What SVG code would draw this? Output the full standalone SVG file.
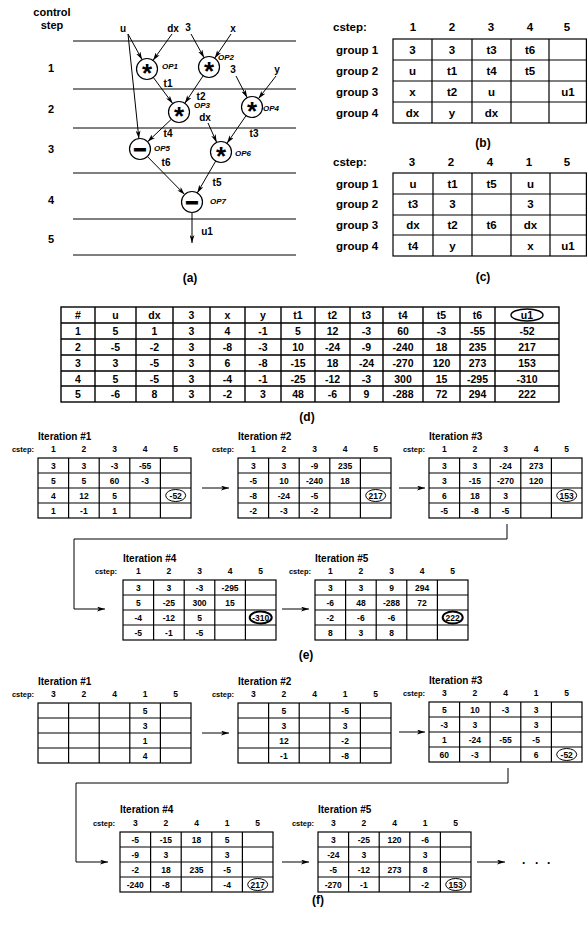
<svg xmlns="http://www.w3.org/2000/svg" xmlns:xlink="http://www.w3.org/1999/xlink" width="587" height="929" viewBox="0 0 587 929">
<style>
text{font-family:"Liberation Sans",Arial,sans-serif;font-weight:bold;fill:#000}
.ln{stroke:#000;stroke-width:1;fill:none}
.ed{stroke:#000;stroke-width:1;fill:none;marker-end:url(#ah)}
.nd{fill:#fff;stroke:#000;stroke-width:1.2}
.lb{font-size:10px;text-anchor:middle}
.op{font-size:8px;font-style:italic}
.mul{font-size:26px;text-anchor:middle}
.sub{font-size:22px;text-anchor:middle;stroke:#000;stroke-width:1}
.st{font-size:11px;text-anchor:middle}
.tb{fill:none;stroke:#000;stroke-width:1.2}
.gt{font-size:11.5px;text-anchor:middle}
.gl{font-size:11.5px}
.dt{font-size:10.5px;text-anchor:middle}
.c{font-size:8.5px;text-anchor:middle}
.h{font-size:8.5px;text-anchor:middle}
.cs{font-size:7.5px;text-anchor:end}
.ti{font-size:10px}
.cap{font-size:12px;text-anchor:middle}
.ov{fill:none;stroke:#000;stroke-width:1}
.ovb{fill:none;stroke:#000;stroke-width:2}
</style>
<defs>
<marker id="ah" viewBox="0 0 10 6" refX="10" refY="3" markerWidth="8" markerHeight="5" orient="auto" markerUnits="userSpaceOnUse"><path d="M0,0L10,3L0,6L2.5,3z" fill="#000"/></marker>
<g id="grid"><rect class="tb" x="0" y="0" width="153" height="60"/><path class="tb" d="M30.6,0V60M61.2,0V60M91.8,0V60M122.4,0V60M0,15H153M0,30H153M0,45H153"/></g>
</defs>
<rect width="587" height="929" fill="#fff"/>

<!-- (a) -->
<g id="a-steps">
<text class="st" x="52" y="16">control</text>
<text class="st" x="52" y="29">step</text>
<text class="st" x="51" y="72">1</text>
<text class="st" x="51" y="113">2</text>
<text class="st" x="51" y="153">3</text>
<text class="st" x="51" y="204">4</text>
<text class="st" x="51" y="243">5</text>
<path class="ln" d="M73,41H296M73,89H296M73,128H296M73,173H296M73,219H296M73,255H296"/>
</g>
<g id="a-edges">
<path class="ed" d="M128,34L142.1,59.7"/>
<path class="ed" d="M128,34L138.9,138.6"/>
<path class="ed" d="M172,34L153,60.4"/>
<path class="ed" d="M191,34L204.1,57.7"/>
<path class="ed" d="M231,34L214.7,58.2"/>
<path class="ed" d="M153.3,77.4L172.7,103.6"/>
<path class="ed" d="M203.2,75.7L184.8,103.3"/>
<path class="ed" d="M236,76L247.2,97.7"/>
<path class="ed" d="M276,76L258.4,98.7"/>
<path class="ed" d="M171.4,119.2L147.6,141.8"/>
<path class="ed" d="M208,123L216.7,142.4"/>
<path class="ed" d="M246,115.7L227,143.3"/>
<path class="ed" d="M147.4,156.5L184.6,194.5"/>
<path class="ed" d="M215.7,161.1L197.3,192.9"/>
<path class="ed" d="M192,212.5V243"/>
</g>
<g id="a-labels">
<text class="lb" x="123" y="32">u</text>
<text class="lb" x="173" y="32">dx</text>
<text class="lb" x="188" y="31">3</text>
<text class="lb" x="233" y="32">x</text>
<text class="lb" x="233" y="73">3</text>
<text class="lb" x="277" y="73">y</text>
<text class="lb" x="168" y="87">t1</text>
<text class="lb" x="201" y="100">t2</text>
<text class="lb" x="205" y="121">dx</text>
<text class="lb" x="168" y="137">t4</text>
<text class="lb" x="254" y="137">t3</text>
<text class="lb" x="166" y="166">t6</text>
<text class="lb" x="217" y="186">t5</text>
<text class="lb" x="207" y="235">u1</text>
</g>
<g id="op1"><circle class="nd" cx="147" cy="69" r="10.5"/><text class="mul" x="147" y="82">*</text><text class="op" x="162" y="69">OP1</text></g>
<g id="op2"><circle class="nd" cx="209" cy="67" r="10.5"/><text class="mul" x="209" y="80">*</text><text class="op" x="218" y="60">OP2</text></g>
<g id="op3"><circle class="nd" cx="179" cy="112" r="10.5"/><text class="mul" x="179" y="125">*</text><text class="op" x="194" y="108">OP3</text></g>
<g id="op4"><circle class="nd" cx="252" cy="107" r="10.5"/><text class="mul" x="252" y="120">*</text><text class="op" x="263" y="111">OP4</text></g>
<g id="op5"><circle class="nd" cx="140" cy="149" r="10.5"/><text class="sub" x="140" y="156.5">−</text><text class="op" x="154" y="151">OP5</text></g>
<g id="op6"><circle class="nd" cx="221" cy="152" r="10.5"/><text class="mul" x="221" y="165">*</text><text class="op" x="235" y="156">OP6</text></g>
<g id="op7"><circle class="nd" cx="192" cy="202" r="10.5"/><text class="sub" x="192" y="209.5">−</text><text class="op" x="210" y="204">OP7</text></g>
<text class="cap" x="190" y="282">(a)</text>

<!-- (b) -->
<g id="tab-b">
<text class="gl" x="333" y="31">cstep:</text>
<text class="gt" x="413" y="31">1</text><text class="gt" x="452" y="31">2</text><text class="gt" x="491" y="31">3</text><text class="gt" x="530" y="31">4</text><text class="gt" x="567" y="31">5</text>
<text class="gl" x="336" y="54">group 1</text><text class="gl" x="336" y="75">group 2</text><text class="gl" x="336" y="96">group 3</text><text class="gl" x="336" y="117">group 4</text>
<rect class="tb" x="393" y="39" width="193.4" height="84"/>
<path class="tb" d="M432,39V123M472,39V123M511,39V123M549,39V123M393,60H586.4M393,81H586.4M393,102H586.4"/>
<text class="gt" x="412.5" y="54">3</text><text class="gt" x="452" y="54">3</text><text class="gt" x="491.5" y="54">t3</text><text class="gt" x="530" y="54">t6</text>
<text class="gt" x="412.5" y="75">u</text><text class="gt" x="452" y="75">t1</text><text class="gt" x="491.5" y="75">t4</text><text class="gt" x="530" y="75">t5</text>
<text class="gt" x="412.5" y="96">x</text><text class="gt" x="452" y="96">t2</text><text class="gt" x="491.5" y="96">u</text><text class="gt" x="568" y="96">u1</text>
<text class="gt" x="412.5" y="117">dx</text><text class="gt" x="452" y="117">y</text><text class="gt" x="491.5" y="117">dx</text>
<text class="cap" x="483" y="147">(b)</text>
</g>

<!-- (c) -->
<g id="tab-c">
<text class="gl" x="333" y="166">cstep:</text>
<text class="gt" x="412" y="166">3</text><text class="gt" x="451" y="166">2</text><text class="gt" x="490" y="166">4</text><text class="gt" x="529" y="166">1</text><text class="gt" x="567" y="166">5</text>
<text class="gl" x="336" y="188">group 1</text><text class="gl" x="336" y="208">group 2</text><text class="gl" x="336" y="229">group 3</text><text class="gl" x="336" y="250">group 4</text>
<rect class="tb" x="393" y="173" width="193.4" height="83"/>
<path class="tb" d="M433,173V256M472,173V256M511,173V256M550,173V256M393,194H586.4M393,215H586.4M393,235H586.4"/>
<text class="gt" x="413" y="188">u</text><text class="gt" x="452.5" y="188">t1</text><text class="gt" x="491.5" y="188">t5</text><text class="gt" x="530.5" y="188">u</text>
<text class="gt" x="413" y="208">t3</text><text class="gt" x="452.5" y="208">3</text><text class="gt" x="530.5" y="208">3</text>
<text class="gt" x="413" y="229">dx</text><text class="gt" x="452.5" y="229">t2</text><text class="gt" x="491.5" y="229">t6</text><text class="gt" x="530.5" y="229">dx</text>
<text class="gt" x="413" y="250">t4</text><text class="gt" x="452.5" y="250">y</text><text class="gt" x="530.5" y="250">x</text><text class="gt" x="568" y="250">u1</text>
<text class="cap" x="483" y="281">(c)</text>
</g>

<!-- (d) -->
<g id="tab-d">
<rect x="61" y="307" width="498" height="95" fill="none" stroke="#000" stroke-width="1.4"/>
<path fill="none" stroke="#000" stroke-width="1.4" d="M95,307V402M136,307V402M173,307V402M210,307V402M245,307V402M281,307V402M315,307V402M350,307V402M383,307V402M423,307V402M460,307V402M495,307V402M61,323H559M61,339H559M61,355H559M61,371H559M61,386H559"/>
<text class="dt" x="78" y="319">#</text><text class="dt" x="115.5" y="319">u</text><text class="dt" x="154.5" y="319">dx</text><text class="dt" x="191.5" y="319">3</text><text class="dt" x="227.5" y="319">x</text><text class="dt" x="263" y="319">y</text><text class="dt" x="298" y="319">t1</text><text class="dt" x="332.5" y="319">t2</text><text class="dt" x="366.5" y="319">t3</text><text class="dt" x="403" y="319">t4</text><text class="dt" x="441.5" y="319">t5</text><text class="dt" x="477.5" y="319">t6</text><text class="dt" x="527" y="319">u1</text>
<ellipse fill="none" stroke="#000" stroke-width="1.4" cx="527" cy="315" rx="16" ry="6"/>
<text class="dt" x="78" y="335">1</text><text class="dt" x="115.5" y="335">5</text><text class="dt" x="154.5" y="335">1</text><text class="dt" x="191.5" y="335">3</text><text class="dt" x="227.5" y="335">4</text><text class="dt" x="263" y="335">-1</text><text class="dt" x="298" y="335">5</text><text class="dt" x="332.5" y="335">12</text><text class="dt" x="366.5" y="335">-3</text><text class="dt" x="403" y="335">60</text><text class="dt" x="441.5" y="335">-3</text><text class="dt" x="477.5" y="335">-55</text><text class="dt" x="527" y="335">-52</text>
<text class="dt" x="78" y="351">2</text><text class="dt" x="115.5" y="351">-5</text><text class="dt" x="154.5" y="351">-2</text><text class="dt" x="191.5" y="351">3</text><text class="dt" x="227.5" y="351">-8</text><text class="dt" x="263" y="351">-3</text><text class="dt" x="298" y="351">10</text><text class="dt" x="332.5" y="351">-24</text><text class="dt" x="366.5" y="351">-9</text><text class="dt" x="403" y="351">-240</text><text class="dt" x="441.5" y="351">18</text><text class="dt" x="477.5" y="351">235</text><text class="dt" x="527" y="351">217</text>
<text class="dt" x="78" y="367">3</text><text class="dt" x="115.5" y="367">3</text><text class="dt" x="154.5" y="367">-5</text><text class="dt" x="191.5" y="367">3</text><text class="dt" x="227.5" y="367">6</text><text class="dt" x="263" y="367">-8</text><text class="dt" x="298" y="367">-15</text><text class="dt" x="332.5" y="367">18</text><text class="dt" x="366.5" y="367">-24</text><text class="dt" x="403" y="367">-270</text><text class="dt" x="441.5" y="367">120</text><text class="dt" x="477.5" y="367">273</text><text class="dt" x="527" y="367">153</text>
<text class="dt" x="78" y="382.5">4</text><text class="dt" x="115.5" y="382.5">5</text><text class="dt" x="154.5" y="382.5">-5</text><text class="dt" x="191.5" y="382.5">3</text><text class="dt" x="227.5" y="382.5">-4</text><text class="dt" x="263" y="382.5">-1</text><text class="dt" x="298" y="382.5">-25</text><text class="dt" x="332.5" y="382.5">-12</text><text class="dt" x="366.5" y="382.5">-3</text><text class="dt" x="403" y="382.5">300</text><text class="dt" x="441.5" y="382.5">15</text><text class="dt" x="477.5" y="382.5">-295</text><text class="dt" x="527" y="382.5">-310</text>
<text class="dt" x="78" y="398">5</text><text class="dt" x="115.5" y="398">-6</text><text class="dt" x="154.5" y="398">8</text><text class="dt" x="191.5" y="398">3</text><text class="dt" x="227.5" y="398">-2</text><text class="dt" x="263" y="398">3</text><text class="dt" x="298" y="398">48</text><text class="dt" x="332.5" y="398">-6</text><text class="dt" x="366.5" y="398">9</text><text class="dt" x="403" y="398">-288</text><text class="dt" x="441.5" y="398">72</text><text class="dt" x="477.5" y="398">294</text><text class="dt" x="527" y="398">222</text>
<text class="cap" x="307" y="421">(d)</text>
</g>

<!-- connectors (e)/(f) -->
<g id="connectors">
<path class="ed" d="M202,488H229"/>
<path class="ed" d="M399,488H425"/>
<path class="ed" d="M507,524V539H74V609H105"/>
<path class="ed" d="M282,609H309"/>
<path class="ed" d="M202,733H229"/>
<path class="ed" d="M399,732H425"/>
<path class="ed" d="M508,768V783H76V862H108"/>
<path class="ed" d="M282,862H309"/>
<path class="ed" d="M477,862H505"/>
</g>

<!-- (e) -->
<g id="e1" transform="translate(38,458)">
<text class="ti" x="0" y="-18.5">Iteration #1</text>
<text class="cs" x="-4" y="-6">cstep:</text>
<text class="h" x="15.3" y="-6">1</text><text class="h" x="45.9" y="-6">2</text><text class="h" x="76.5" y="-6">3</text><text class="h" x="107.1" y="-6">4</text><text class="h" x="137.7" y="-6">5</text>
<use xlink:href="#grid"/>
<text class="c" x="15.3" y="10.5">3</text><text class="c" x="45.9" y="10.5">3</text><text class="c" x="76.5" y="10.5">-3</text><text class="c" x="107.1" y="10.5">-55</text>
<text class="c" x="15.3" y="25.5">5</text><text class="c" x="45.9" y="25.5">5</text><text class="c" x="76.5" y="25.5">60</text><text class="c" x="107.1" y="25.5">-3</text>
<text class="c" x="15.3" y="40.5">4</text><text class="c" x="45.9" y="40.5">12</text><text class="c" x="76.5" y="40.5">5</text><text class="c" x="137.7" y="40.5">-52</text>
<text class="c" x="15.3" y="55.5">1</text><text class="c" x="45.9" y="55.5">-1</text><text class="c" x="76.5" y="55.5">1</text>
<ellipse class="ov" cx="137.7" cy="37.5" rx="10" ry="6"/>
</g>
<g id="e2" transform="translate(238,458)">
<text class="ti" x="0" y="-18.5">Iteration #2</text>
<text class="cs" x="-4" y="-6">cstep:</text>
<text class="h" x="15.3" y="-6">1</text><text class="h" x="45.9" y="-6">2</text><text class="h" x="76.5" y="-6">3</text><text class="h" x="107.1" y="-6">4</text><text class="h" x="137.7" y="-6">5</text>
<use xlink:href="#grid"/>
<text class="c" x="15.3" y="10.5">3</text><text class="c" x="45.9" y="10.5">3</text><text class="c" x="76.5" y="10.5">-9</text><text class="c" x="107.1" y="10.5">235</text>
<text class="c" x="15.3" y="25.5">-5</text><text class="c" x="45.9" y="25.5">10</text><text class="c" x="76.5" y="25.5">-240</text><text class="c" x="107.1" y="25.5">18</text>
<text class="c" x="15.3" y="40.5">-8</text><text class="c" x="45.9" y="40.5">-24</text><text class="c" x="76.5" y="40.5">-5</text><text class="c" x="137.7" y="40.5">217</text>
<text class="c" x="15.3" y="55.5">-2</text><text class="c" x="45.9" y="55.5">-3</text><text class="c" x="76.5" y="55.5">-2</text>
<ellipse class="ov" cx="137.7" cy="37.5" rx="10" ry="6"/>
</g>
<g id="e3" transform="translate(429,458)">
<text class="ti" x="0" y="-18.5">Iteration #3</text>
<text class="cs" x="-4" y="-6">cstep:</text>
<text class="h" x="15.3" y="-6">1</text><text class="h" x="45.9" y="-6">2</text><text class="h" x="76.5" y="-6">3</text><text class="h" x="107.1" y="-6">4</text><text class="h" x="137.7" y="-6">5</text>
<use xlink:href="#grid"/>
<text class="c" x="15.3" y="10.5">3</text><text class="c" x="45.9" y="10.5">3</text><text class="c" x="76.5" y="10.5">-24</text><text class="c" x="107.1" y="10.5">273</text>
<text class="c" x="15.3" y="25.5">3</text><text class="c" x="45.9" y="25.5">-15</text><text class="c" x="76.5" y="25.5">-270</text><text class="c" x="107.1" y="25.5">120</text>
<text class="c" x="15.3" y="40.5">6</text><text class="c" x="45.9" y="40.5">18</text><text class="c" x="76.5" y="40.5">3</text><text class="c" x="137.7" y="40.5">153</text>
<text class="c" x="15.3" y="55.5">-5</text><text class="c" x="45.9" y="55.5">-8</text><text class="c" x="76.5" y="55.5">-5</text>
<ellipse class="ov" cx="137.7" cy="37.5" rx="10" ry="6"/>
</g>
<g id="e4" transform="translate(123,580)">
<text class="ti" x="0" y="-18.5">Iteration #4</text>
<text class="cs" x="-6" y="-6">cstep:</text>
<text class="h" x="15.3" y="-6">1</text><text class="h" x="45.9" y="-6">2</text><text class="h" x="76.5" y="-6">3</text><text class="h" x="107.1" y="-6">4</text><text class="h" x="137.7" y="-6">5</text>
<use xlink:href="#grid"/>
<text class="c" x="15.3" y="10.5">3</text><text class="c" x="45.9" y="10.5">3</text><text class="c" x="76.5" y="10.5">-3</text><text class="c" x="107.1" y="10.5">-295</text>
<text class="c" x="15.3" y="25.5">5</text><text class="c" x="45.9" y="25.5">-25</text><text class="c" x="76.5" y="25.5">300</text><text class="c" x="107.1" y="25.5">15</text>
<text class="c" x="15.3" y="40.5">-4</text><text class="c" x="45.9" y="40.5">-12</text><text class="c" x="76.5" y="40.5">5</text><text class="c" x="137.7" y="40.5">-310</text>
<text class="c" x="15.3" y="55.5">-5</text><text class="c" x="45.9" y="55.5">-1</text><text class="c" x="76.5" y="55.5">-5</text>
<ellipse class="ovb" cx="137.7" cy="37.5" rx="11" ry="6"/>
</g>
<g id="e5" transform="translate(315,580)">
<text class="ti" x="0" y="-18.5">Iteration #5</text>
<text class="cs" x="-4" y="-6">cstep:</text>
<text class="h" x="15.3" y="-6">1</text><text class="h" x="45.9" y="-6">2</text><text class="h" x="76.5" y="-6">3</text><text class="h" x="107.1" y="-6">4</text><text class="h" x="137.7" y="-6">5</text>
<use xlink:href="#grid"/>
<text class="c" x="15.3" y="10.5">3</text><text class="c" x="45.9" y="10.5">3</text><text class="c" x="76.5" y="10.5">9</text><text class="c" x="107.1" y="10.5">294</text>
<text class="c" x="15.3" y="25.5">-6</text><text class="c" x="45.9" y="25.5">48</text><text class="c" x="76.5" y="25.5">-288</text><text class="c" x="107.1" y="25.5">72</text>
<text class="c" x="15.3" y="40.5">-2</text><text class="c" x="45.9" y="40.5">-6</text><text class="c" x="76.5" y="40.5">-6</text><text class="c" x="137.7" y="40.5">222</text>
<text class="c" x="15.3" y="55.5">8</text><text class="c" x="45.9" y="55.5">3</text><text class="c" x="76.5" y="55.5">8</text>
<ellipse class="ovb" cx="137.7" cy="37.5" rx="10" ry="6"/>
</g>
<text class="cap" x="306" y="659">(e)</text>

<!-- (f) -->
<g id="f1" transform="translate(38,703)">
<text class="ti" x="0" y="-18.5">Iteration #1</text>
<text class="cs" x="-4" y="-6">cstep:</text>
<text class="h" x="15.3" y="-6">3</text><text class="h" x="45.9" y="-6">2</text><text class="h" x="76.5" y="-6">4</text><text class="h" x="107.1" y="-6">1</text><text class="h" x="137.7" y="-6">5</text>
<use xlink:href="#grid"/>
<text class="c" x="107.1" y="10.5">5</text><text class="c" x="107.1" y="25.5">3</text><text class="c" x="107.1" y="40.5">1</text><text class="c" x="107.1" y="55.5">4</text>
</g>
<g id="f2" transform="translate(238,703)">
<text class="ti" x="0" y="-18.5">Iteration #2</text>
<text class="cs" x="-4" y="-6">cstep:</text>
<text class="h" x="15.3" y="-6">3</text><text class="h" x="45.9" y="-6">2</text><text class="h" x="76.5" y="-6">4</text><text class="h" x="107.1" y="-6">1</text><text class="h" x="137.7" y="-6">5</text>
<use xlink:href="#grid"/>
<text class="c" x="45.9" y="10.5">5</text><text class="c" x="107.1" y="10.5">-5</text>
<text class="c" x="45.9" y="25.5">3</text><text class="c" x="107.1" y="25.5">3</text>
<text class="c" x="45.9" y="40.5">12</text><text class="c" x="107.1" y="40.5">-2</text>
<text class="c" x="45.9" y="55.5">-1</text><text class="c" x="107.1" y="55.5">-8</text>
</g>
<g id="f3" transform="translate(429,702)">
<text class="ti" x="0" y="-18.5">Iteration #3</text>
<text class="cs" x="-4" y="-6">cstep:</text>
<text class="h" x="15.3" y="-6">3</text><text class="h" x="45.9" y="-6">2</text><text class="h" x="76.5" y="-6">4</text><text class="h" x="107.1" y="-6">1</text><text class="h" x="137.7" y="-6">5</text>
<use xlink:href="#grid"/>
<text class="c" x="15.3" y="10.5">5</text><text class="c" x="45.9" y="10.5">10</text><text class="c" x="76.5" y="10.5">-3</text><text class="c" x="107.1" y="10.5">3</text>
<text class="c" x="15.3" y="25.5">-3</text><text class="c" x="45.9" y="25.5">3</text><text class="c" x="107.1" y="25.5">3</text>
<text class="c" x="15.3" y="40.5">1</text><text class="c" x="45.9" y="40.5">-24</text><text class="c" x="76.5" y="40.5">-55</text><text class="c" x="107.1" y="40.5">-5</text>
<text class="c" x="15.3" y="55.5">60</text><text class="c" x="45.9" y="55.5">-3</text><text class="c" x="107.1" y="55.5">6</text><text class="c" x="137.7" y="55.5">-52</text>
<ellipse class="ov" cx="137.7" cy="52.5" rx="10" ry="6"/>
</g>
<g id="f4" transform="translate(120,832)">
<text class="ti" x="0" y="-19.5">Iteration #4</text>
<text class="cs" x="-5" y="-6">cstep:</text>
<text class="h" x="15.3" y="-6">3</text><text class="h" x="45.9" y="-6">2</text><text class="h" x="76.5" y="-6">4</text><text class="h" x="107.1" y="-6">1</text><text class="h" x="137.7" y="-6">5</text>
<use xlink:href="#grid"/>
<text class="c" x="15.3" y="10.5">-5</text><text class="c" x="45.9" y="10.5">-15</text><text class="c" x="76.5" y="10.5">18</text><text class="c" x="107.1" y="10.5">5</text>
<text class="c" x="15.3" y="25.5">-9</text><text class="c" x="45.9" y="25.5">3</text><text class="c" x="107.1" y="25.5">3</text>
<text class="c" x="15.3" y="40.5">-2</text><text class="c" x="45.9" y="40.5">18</text><text class="c" x="76.5" y="40.5">235</text><text class="c" x="107.1" y="40.5">-5</text>
<text class="c" x="15.3" y="55.5">-240</text><text class="c" x="45.9" y="55.5">-8</text><text class="c" x="107.1" y="55.5">-4</text><text class="c" x="137.7" y="55.5">217</text>
<ellipse class="ov" cx="137.7" cy="52.5" rx="10" ry="6"/>
</g>
<g id="f5" transform="translate(318,832)">
<text class="ti" x="0" y="-19.5">Iteration #5</text>
<text class="cs" x="-4" y="-6">cstep:</text>
<text class="h" x="15.3" y="-6">3</text><text class="h" x="45.9" y="-6">2</text><text class="h" x="76.5" y="-6">4</text><text class="h" x="107.1" y="-6">1</text><text class="h" x="137.7" y="-6">5</text>
<use xlink:href="#grid"/>
<text class="c" x="15.3" y="10.5">3</text><text class="c" x="45.9" y="10.5">-25</text><text class="c" x="76.5" y="10.5">120</text><text class="c" x="107.1" y="10.5">-6</text>
<text class="c" x="15.3" y="25.5">-24</text><text class="c" x="45.9" y="25.5">3</text><text class="c" x="107.1" y="25.5">3</text>
<text class="c" x="15.3" y="40.5">-5</text><text class="c" x="45.9" y="40.5">-12</text><text class="c" x="76.5" y="40.5">273</text><text class="c" x="107.1" y="40.5">8</text>
<text class="c" x="15.3" y="55.5">-270</text><text class="c" x="45.9" y="55.5">-1</text><text class="c" x="107.1" y="55.5">-2</text><text class="c" x="137.7" y="55.5">153</text>
<ellipse class="ov" cx="137.7" cy="52.5" rx="10" ry="6"/>
</g>
<text x="522 535 547" y="864" font-size="12">...</text>
<text class="cap" x="318" y="904">(f)</text>
</svg>
